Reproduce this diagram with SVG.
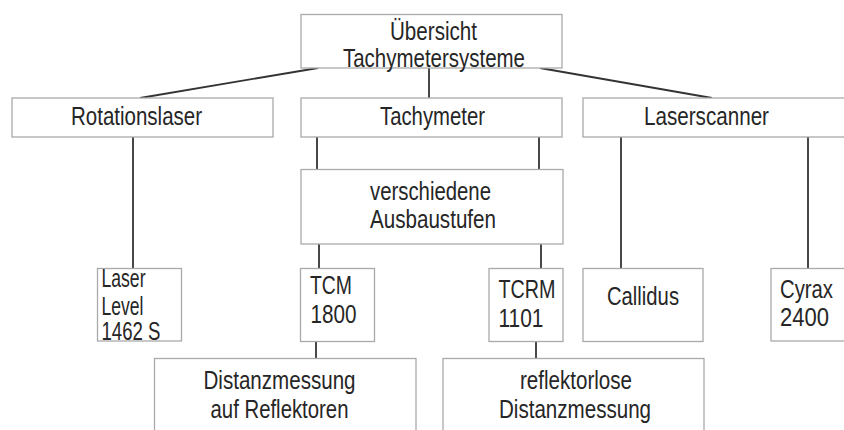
<svg xmlns="http://www.w3.org/2000/svg" width="844" height="430" viewBox="0 0 844 430">
<style>
.box{fill:#fff;stroke:#aaa;stroke-width:1.3}
.t{font-family:"Liberation Sans","Arial",sans-serif;font-size:26.5px;fill:#262626}
.c line{stroke:#333;stroke-width:1.8}
</style>
<rect width="844" height="430" fill="#fff"/>
<g id="connectors" class="c">
<line x1="318" y1="68" x2="140" y2="98"/>
<line x1="429" y1="68" x2="429" y2="98"/>
<line x1="540" y1="68" x2="712" y2="98"/>
<line x1="133" y1="137" x2="133" y2="268"/>
<line x1="317" y1="137" x2="317" y2="169"/>
<line x1="539" y1="137" x2="539" y2="169"/>
<line x1="621" y1="137" x2="621" y2="268"/>
<line x1="808" y1="137" x2="808" y2="268"/>
<line x1="319" y1="244" x2="319" y2="268"/>
<line x1="541" y1="244" x2="541" y2="268"/>
<line x1="316" y1="342" x2="316" y2="358"/>
<line x1="536" y1="342" x2="536" y2="358"/>
</g>
<g id="root">
<rect class="box" x="301" y="14.5" width="261" height="53.5"/>
<text class="t" x="390" y="40" textLength="87" lengthAdjust="spacingAndGlyphs">Übersicht</text>
<text class="t" x="343" y="67" textLength="182" lengthAdjust="spacingAndGlyphs">Tachymetersysteme</text>
</g>
<g id="rotationslaser">
<rect class="box" x="12" y="98" width="261" height="39"/>
<text class="t" x="71" y="124.5" textLength="131" lengthAdjust="spacingAndGlyphs">Rotationslaser</text>
</g>
<g id="tachymeter">
<rect class="box" x="301" y="98" width="261" height="39"/>
<text class="t" x="380" y="125" textLength="105" lengthAdjust="spacingAndGlyphs">Tachymeter</text>
</g>
<g id="laserscanner">
<rect class="box" x="583" y="98" width="275" height="39"/>
<text class="t" x="644" y="124.5" textLength="125" lengthAdjust="spacingAndGlyphs">Laserscanner</text>
</g>
<g id="ausbaustufen">
<rect class="box" x="301" y="169.5" width="262" height="74.5"/>
<text class="t" x="370" y="200" textLength="121" lengthAdjust="spacingAndGlyphs">verschiedene</text>
<text class="t" x="370" y="228" textLength="126" lengthAdjust="spacingAndGlyphs">Ausbaustufen</text>
</g>
<g id="laserlevel">
<rect class="box" x="97.5" y="268.5" width="84" height="72.5"/>
<text class="t" x="101.5" y="287" textLength="44" lengthAdjust="spacingAndGlyphs">Laser</text>
<text class="t" x="101.5" y="314.5" textLength="42" lengthAdjust="spacingAndGlyphs">Level</text>
<text class="t" x="101.5" y="340" textLength="59" lengthAdjust="spacingAndGlyphs">1462 S</text>
</g>
<g id="tcm1800">
<rect class="box" x="300.5" y="268.5" width="74" height="73"/>
<text class="t" x="310" y="294" textLength="42" lengthAdjust="spacingAndGlyphs">TCM</text>
<text class="t" x="310.5" y="322.5" textLength="46" lengthAdjust="spacingAndGlyphs">1800</text>
</g>
<g id="tcrm1101">
<rect class="box" x="489" y="268.5" width="74" height="73"/>
<text class="t" x="498.5" y="298" textLength="57" lengthAdjust="spacingAndGlyphs">TCRM</text>
<text class="t" x="498.5" y="326.5" textLength="45" lengthAdjust="spacingAndGlyphs">1101</text>
</g>
<g id="callidus">
<rect class="box" x="583" y="268.5" width="120" height="73"/>
<text class="t" x="607" y="304.5" textLength="72" lengthAdjust="spacingAndGlyphs">Callidus</text>
</g>
<g id="cyrax2400">
<rect class="box" x="771" y="268.5" width="85" height="72.5"/>
<text class="t" x="780" y="297.5" textLength="53" lengthAdjust="spacingAndGlyphs">Cyrax</text>
<text class="t" x="780" y="325.5" textLength="49" lengthAdjust="spacingAndGlyphs">2400</text>
</g>
<g id="reflektor">
<rect class="box" x="154.5" y="358.5" width="261.5" height="80"/>
<text class="t" x="203.5" y="389" textLength="152" lengthAdjust="spacingAndGlyphs">Distanzmessung</text>
<text class="t" x="210.5" y="418" textLength="138" lengthAdjust="spacingAndGlyphs">auf Reflektoren</text>
</g>
<g id="reflektorlos">
<rect class="box" x="443" y="358.5" width="261" height="80"/>
<text class="t" x="520" y="389" textLength="112" lengthAdjust="spacingAndGlyphs">reflektorlose</text>
<text class="t" x="499" y="418" textLength="152" lengthAdjust="spacingAndGlyphs">Distanzmessung</text>
</g>
</svg>
